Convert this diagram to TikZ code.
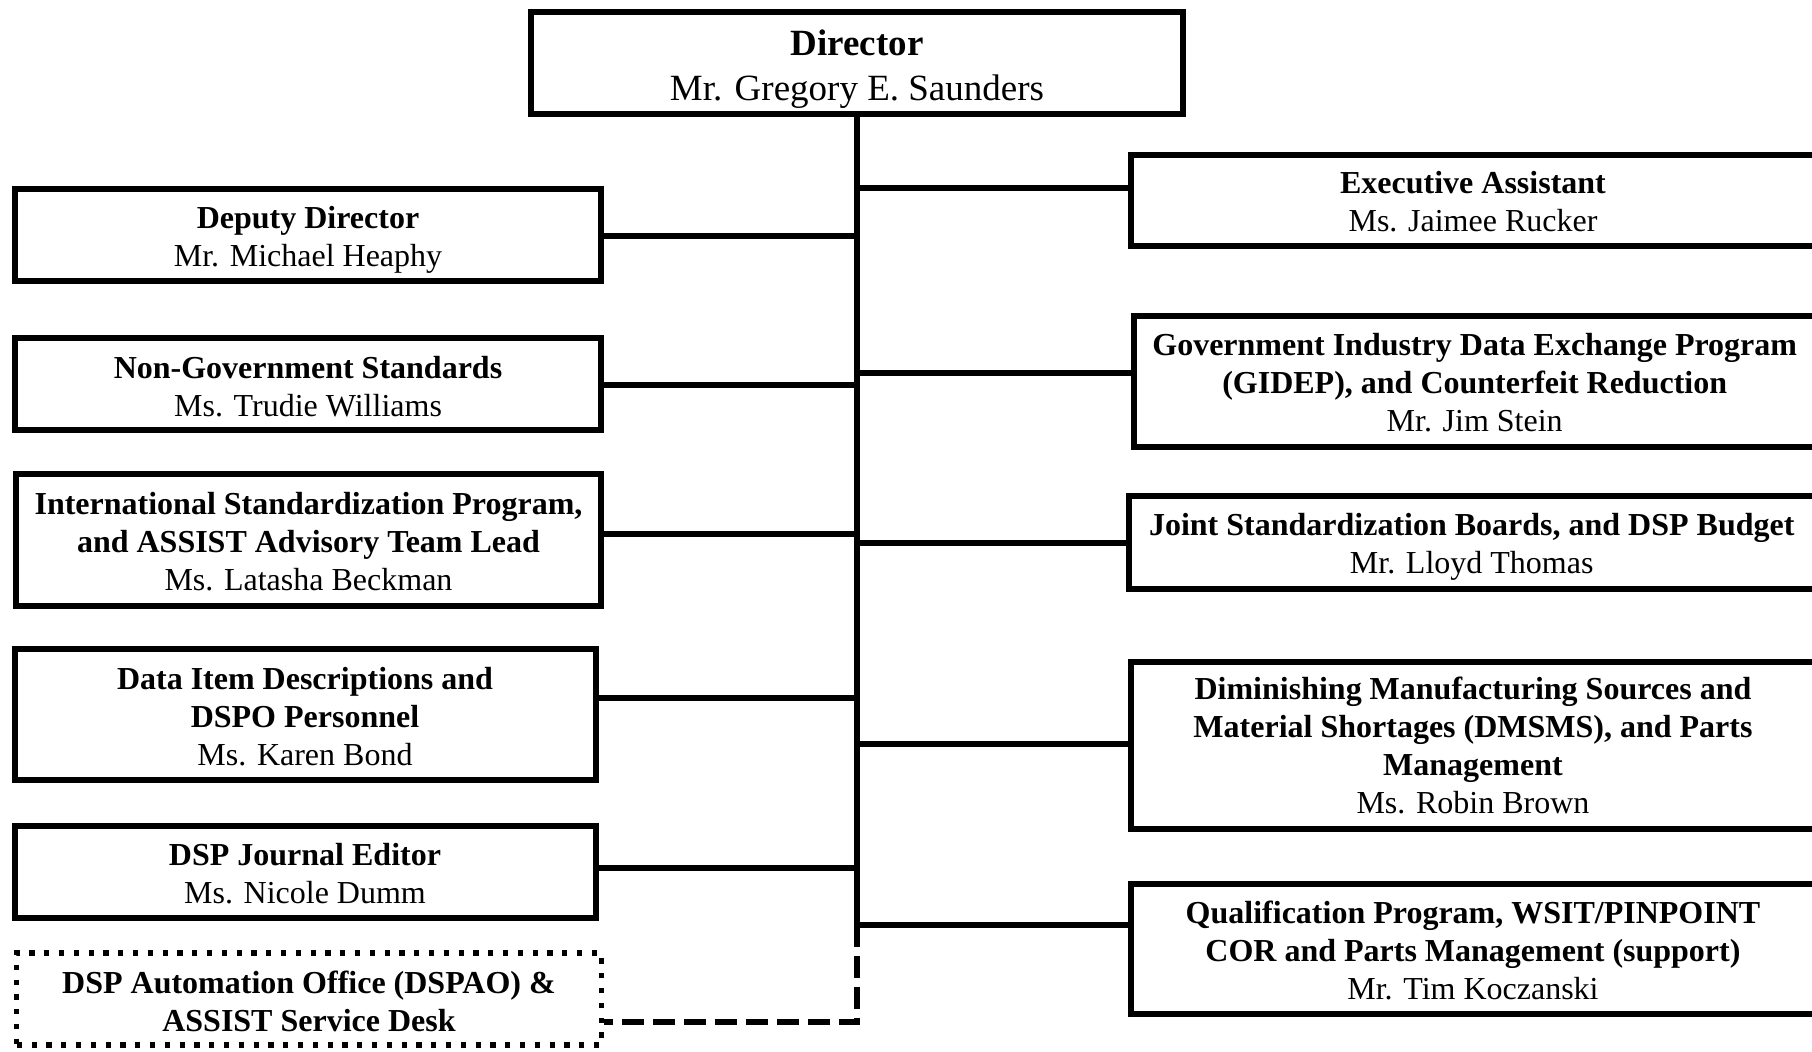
\documentclass[tikz,border=0pt]{standalone}
\usepackage{fontspec}
\setmainfont{Liberation Serif}
\begin{document}
\begin{tikzpicture}[x=0.5pt,y=-0.5pt,
  box/.style={draw, line width=3pt, inner sep=0pt},
  dotbox/.style={box, line width=2.6pt, dash pattern=on 2.6pt off 4.8pt},
  txt/.style={align=center, inner sep=0pt, font=\fontsize{16}{19}\selectfont},
  dirtxt/.style={txt, font=\fontsize{18.5}{22.5}\selectfont},
  conn/.style={line width=3pt},
  dconn/.style={line width=3pt, dash pattern=on 11pt off 4.5pt}]
\useasboundingbox (0,0) rectangle (1812,1051);
\clip (0,0) rectangle (1812,1051);
% Director
\node[box, minimum width=326.3pt, minimum height=50.75pt] (dir) at (857,63) {};
\node[dirtxt] (dirT) at ([yshift=-2.9pt]dir.center) {\textbf{Director}\\Mr. Gregory E. Saunders};
% Left column
\node[box, minimum width=293.4pt, minimum height=46pt] (dep) at (308,235) {};
\node[txt] (depT) at ([yshift=-2.3pt]dep.center) {\textbf{Deputy Director}\\Mr. Michael Heaphy};
\node[box, minimum width=293.4pt, minimum height=46pt] (ngs) at (308,384) {};
\node[txt] (ngsT) at ([yshift=-1.15pt]ngs.center) {\textbf{Non-Government Standards}\\Ms. Trudie Williams};
\node[box, minimum width=292.9pt, minimum height=65.75pt] (isp) at (308.5,540.2) {};
\node[txt] (ispT) at ([yshift=-0.9pt]isp.center)
  {\textbf{International Standardization Program,}\\\textbf{and ASSIST Advisory Team Lead}\\Ms. Latasha Beckman};
\node[box, minimum width=290.5pt, minimum height=65.75pt] (did) at (305,714.7) {};
\node[txt] (didT) at ([yshift=-1.15pt]did.center)
  {\textbf{Data Item Descriptions and}\\\textbf{DSPO Personnel}\\Ms. Karen Bond};
\node[box, minimum width=290.5pt, minimum height=46pt] (jrn) at (305,872) {};
\node[txt] (jrnT) at ([yshift=-0.9pt]jrn.center) {\textbf{DSP Journal Editor}\\Ms. Nicole Dumm};
\node[dotbox, minimum width=292.25pt, minimum height=46pt] (pao) at (309,999) {};
\node[txt] (paoT) at ([yshift=-1.15pt]pao.center)
  {\textbf{DSP Automation Office (DSPAO) \&}\\\textbf{ASSIST Service Desk}};
% Right column
\node[box, minimum width=342pt, minimum height=45.5pt] (exa) at (1473,200) {};
\node[txt] (exaT) at ([yshift=-0.9pt]exa.center) {\textbf{Executive Assistant}\\Ms. Jaimee Rucker};
\node[box, minimum width=340.35pt, minimum height=65.25pt] (gid) at (1474.7,381.25) {};
\node[txt] (gidT) at ([yshift=-0.75pt]gid.center)
  {\textbf{Government Industry Data Exchange Program}\\\textbf{(GIDEP), and Counterfeit Reduction}\\Mr. Jim Stein};
\node[box, minimum width=343.25pt, minimum height=46.15pt] (jsb) at (1471.75,542.5) {};
\node[txt] (jsbT) at ([yshift=-2.3pt]jsb.center)
  {\textbf{Joint Standardization Boards, and DSP Budget}\\Mr. Lloyd Thomas};
\node[box, minimum width=342pt, minimum height=83.65pt] (dms) at (1473,745.3) {};
\node[txt] (dmsT) at ([yshift=-0.3pt]dms.center)
  {\textbf{Diminishing Manufacturing Sources and}\\\textbf{Material Shortages (DMSMS), and Parts}\\\textbf{Management}\\Ms. Robin Brown};
\node[box, minimum width=342pt, minimum height=65.25pt] (qpl) at (1473,948.75) {};
\node[txt] (qplT) at ([yshift=-0.6pt]qpl.center)
  {\textbf{Qualification Program, WSIT/PINPOINT}\\\textbf{COR and Parts Management (support)}\\Mr. Tim Koczanski};
% Trunk coordinates
\coordinate (tExa) at (857,188.4);
\coordinate (tDep) at (857,235.7);
\coordinate (tGid) at (857,373);
\coordinate (tNgs) at (857,384.8);
\coordinate (tIsp) at (857,534);
\coordinate (tJsb) at (857,543);
\coordinate (tDid) at (857,698);
\coordinate (tDms) at (857,744);
\coordinate (tJrn) at (857,868);
\coordinate (tQpl) at (857,924.5);
\coordinate (tPao) at (857,1021.5);
% Connectors
\draw[conn] (dir.south) -- (tQpl);
\draw[conn] (tExa) -- (exa.west |- tExa);
\draw[conn] (tDep) -- (dep.east |- tDep);
\draw[conn] (tGid) -- (gid.west |- tGid);
\draw[conn] (tNgs) -- (ngs.east |- tNgs);
\draw[conn] (tIsp) -- (isp.east |- tIsp);
\draw[conn] (tJsb) -- (jsb.west |- tJsb);
\draw[conn] (tDid) -- (did.east |- tDid);
\draw[conn] (tDms) -- (dms.west |- tDms);
\draw[conn] (tJrn) -- (jrn.east |- tJrn);
\draw[conn] (tQpl) -- (qpl.west |- tQpl);
\draw[dconn] (tQpl) -- (tPao) -- (pao.east |- tPao);
\end{tikzpicture}
\end{document}
